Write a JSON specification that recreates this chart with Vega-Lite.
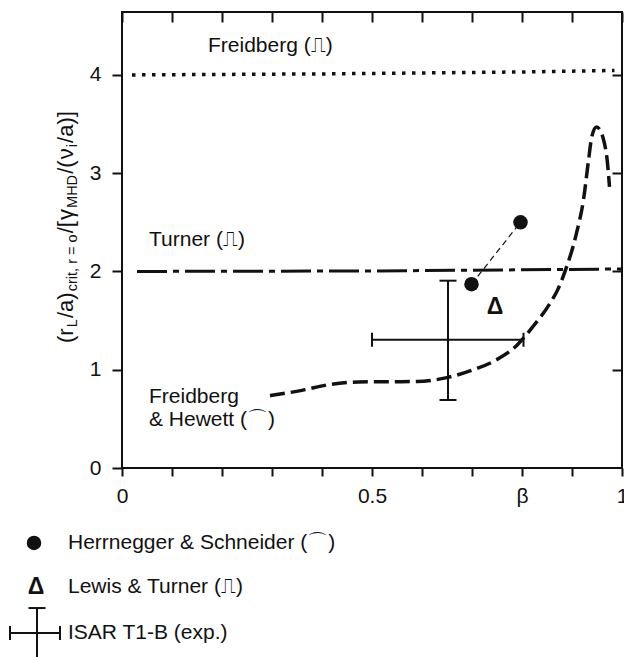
{
  "$schema": "https://vega.github.io/schema/vega-lite/v6.json",
  "width": 500,
  "height": 456,
  "autosize": {"type": "none"},
  "padding": {"left": 122, "top": 12, "right": 2, "bottom": 189},
  "background": "white",
  "config": {
    "view": {"stroke": "#111", "strokeWidth": 2},
    "font": "Liberation Sans",
    "axis": {
      "domain": false,
      "grid": false,
      "tickColor": "#111",
      "tickWidth": 2,
      "labelColor": "#111",
      "labelFont": "Liberation Sans",
      "labelFontSize": 21
    },
    "text": {"font": "Liberation Sans", "fontSize": 21, "color": "#111"}
  },
  "datasets": {
    "freidberg_limit": [
      {"beta": 0.02, "ratio": 4.0},
      {"beta": 0.4, "ratio": 4.01},
      {"beta": 0.8, "ratio": 4.03},
      {"beta": 0.985, "ratio": 4.045}
    ],
    "turner_limit": [
      {"beta": 0.03, "ratio": 2.0},
      {"beta": 0.5, "ratio": 2.005},
      {"beta": 1.0, "ratio": 2.025}
    ],
    "freidberg_hewett": [
      {"beta": 0.296, "ratio": 0.736},
      {"beta": 0.36, "ratio": 0.79},
      {"beta": 0.416, "ratio": 0.85},
      {"beta": 0.472, "ratio": 0.875},
      {"beta": 0.53, "ratio": 0.878},
      {"beta": 0.59, "ratio": 0.88},
      {"beta": 0.65, "ratio": 0.92},
      {"beta": 0.7, "ratio": 0.995},
      {"beta": 0.745, "ratio": 1.09},
      {"beta": 0.79, "ratio": 1.25},
      {"beta": 0.822, "ratio": 1.44},
      {"beta": 0.854, "ratio": 1.66},
      {"beta": 0.872, "ratio": 1.82},
      {"beta": 0.886, "ratio": 2.0},
      {"beta": 0.909, "ratio": 2.39},
      {"beta": 0.923, "ratio": 2.73},
      {"beta": 0.933, "ratio": 3.13},
      {"beta": 0.94, "ratio": 3.38},
      {"beta": 0.949, "ratio": 3.47},
      {"beta": 0.958, "ratio": 3.42},
      {"beta": 0.965, "ratio": 3.3},
      {"beta": 0.97, "ratio": 3.15},
      {"beta": 0.975, "ratio": 2.86}
    ],
    "herrnegger": [
      {"beta": 0.699, "ratio": 1.87},
      {"beta": 0.797, "ratio": 2.5},
      {"beta": -0.176, "ratio": -0.763}
    ],
    "lewis": [
      {"beta": 0.746, "ratio": 1.64},
      {"beta": -0.172, "ratio": -1.211}
    ],
    "isar": [
      {"beta": 0.652, "ratio": 1.305, "beta_lo": 0.5, "beta_hi": 0.803, "ratio_lo": 0.692, "ratio_hi": 1.906},
      {"beta": -0.17, "ratio": -1.679, "beta_lo": -0.224, "beta_hi": -0.124, "ratio_lo": -2.2, "ratio_hi": -1.425}
    ],
    "notes": [
      {"beta": 0.172, "ratio": 4.29, "text": "Freidberg (⎍)"},
      {"beta": 0.054, "ratio": 2.32, "text": "Turner (⎍)"},
      {"beta": 0.054, "ratio": 0.718, "text": "Freidberg"},
      {"beta": 0.054, "ratio": 0.489, "text": "& Hewett (⌒)"},
      {"beta": -0.108, "ratio": -0.763, "text": "Herrnegger & Schneider (⌒)"},
      {"beta": -0.108, "ratio": -1.211, "text": "Lewis & Turner (⎍)"},
      {"beta": -0.108, "ratio": -1.679, "text": "ISAR T1-B (exp.)"}
    ],
    "ylab": [
      {"part": "base", "text": "(r", "pos": 1.2723},
      {"part": "sub", "text": "L", "pos": 1.4326},
      {"part": "base", "text": "/a)", "pos": 1.5257},
      {"part": "sub", "text": "crit, r = o", "pos": 1.7985},
      {"part": "base", "text": "/[", "pos": 2.3878},
      {"part": "base", "text": "γ", "pos": 2.5232},
      {"part": "sub", "text": "MHD", "pos": 2.6463},
      {"part": "base", "text": "/(", "pos": 2.9934},
      {"part": "base", "text": "ν", "pos": 3.141},
      {"part": "sub", "text": "i", "pos": 3.2641},
      {"part": "base", "text": "/a)]", "pos": 3.3079}
    ]
  },
  "resolve": {"axis": {"x": "independent", "y": "independent"}},
  "layer": [
    {
      "data": {"name": "freidberg_limit"},
      "mark": {"type": "line", "color": "#111", "strokeWidth": 3.5, "strokeDash": [3.5, 6.5]},
      "encoding": {
        "x": {
          "field": "beta", "type": "quantitative", "title": null,
          "scale": {"domain": [0, 1], "nice": false, "zero": false},
          "axis": {
            "orient": "bottom",
            "values": [0, 0.1, 0.2, 0.3, 0.4, 0.5, 0.6, 0.7, 0.8, 0.9, 1],
            "tickSize": 8,
            "labelPadding": 9,
            "labelOverlap": false,
            "labelFlush": false,
            "labelExpr": "abs(datum.value) < 1e-6 ? '0' : abs(datum.value - 0.5) < 1e-6 ? '0.5' : abs(datum.value - 0.8) < 1e-6 ? 'β' : abs(datum.value - 1) < 1e-6 ? '1' : ''"
          }
        },
        "y": {
          "field": "ratio", "type": "quantitative", "title": null,
          "scale": {"domain": [0, 4.64], "nice": false, "zero": false},
          "axis": {"orient": "left", "values": [0, 1, 2, 3, 4], "tickSize": 10, "labelPadding": 11}
        }
      }
    },
    {
      "data": {"name": "turner_limit"},
      "mark": {"type": "line", "color": "#111", "strokeWidth": 3, "strokeDash": [30, 6, 6, 6]},
      "encoding": {
        "x": {
          "field": "beta", "type": "quantitative", "title": null,
          "axis": {"orient": "top", "values": [0, 0.1, 0.2, 0.3, 0.4, 0.5, 0.6, 0.7, 0.8, 0.9, 1], "tickSize": -10, "labels": false}
        },
        "y": {
          "field": "ratio", "type": "quantitative", "title": null,
          "axis": {"orient": "right", "values": [1, 2, 3, 4], "tickSize": -10, "labels": false}
        }
      }
    },
    {
      "data": {"name": "freidberg_hewett"},
      "mark": {"type": "line", "color": "#111", "strokeWidth": 3.5, "strokeDash": [15, 6], "interpolate": "monotone"},
      "encoding": {
        "x": {"field": "beta", "type": "quantitative", "axis": null},
        "y": {"field": "ratio", "type": "quantitative", "axis": null}
      }
    },
    {
      "data": {"name": "herrnegger"},
      "transform": [{"filter": "datum.ratio > 0"}],
      "mark": {"type": "line", "color": "#111", "strokeWidth": 1.2, "strokeDash": [6, 4]},
      "encoding": {
        "x": {"field": "beta", "type": "quantitative", "axis": null},
        "y": {"field": "ratio", "type": "quantitative", "axis": null}
      }
    },
    {
      "data": {"name": "herrnegger"},
      "mark": {"type": "point", "shape": "circle", "filled": true, "color": "#111", "opacity": 1, "size": 210},
      "encoding": {
        "x": {"field": "beta", "type": "quantitative", "axis": null},
        "y": {"field": "ratio", "type": "quantitative", "axis": null}
      }
    },
    {
      "data": {"name": "lewis"},
      "mark": {"type": "text", "text": "Δ", "fontWeight": "bold", "fontSize": 23, "align": "center", "baseline": "middle"},
      "encoding": {
        "x": {"field": "beta", "type": "quantitative", "axis": null},
        "y": {"field": "ratio", "type": "quantitative", "axis": null}
      }
    },
    {
      "data": {"name": "isar"},
      "mark": {"type": "rule", "color": "#111", "strokeWidth": 2},
      "encoding": {
        "x": {"field": "beta", "type": "quantitative", "axis": null},
        "y": {"field": "ratio_lo", "type": "quantitative", "axis": null},
        "y2": {"field": "ratio_hi"}
      }
    },
    {
      "data": {"name": "isar"},
      "mark": {"type": "rule", "color": "#111", "strokeWidth": 2},
      "encoding": {
        "x": {"field": "beta_lo", "type": "quantitative", "axis": null},
        "x2": {"field": "beta_hi"},
        "y": {"field": "ratio", "type": "quantitative", "axis": null}
      }
    },
    {
      "data": {"name": "isar"},
      "mark": {"type": "tick", "orient": "horizontal", "color": "#111", "size": 17, "thickness": 2, "opacity": 1},
      "encoding": {
        "x": {"field": "beta", "type": "quantitative", "axis": null},
        "y": {"field": "ratio_lo", "type": "quantitative", "axis": null}
      }
    },
    {
      "data": {"name": "isar"},
      "mark": {"type": "tick", "orient": "horizontal", "color": "#111", "size": 17, "thickness": 2, "opacity": 1},
      "encoding": {
        "x": {"field": "beta", "type": "quantitative", "axis": null},
        "y": {"field": "ratio_hi", "type": "quantitative", "axis": null}
      }
    },
    {
      "data": {"name": "isar"},
      "mark": {"type": "tick", "orient": "vertical", "color": "#111", "size": 14, "thickness": 2, "opacity": 1},
      "encoding": {
        "x": {"field": "beta_lo", "type": "quantitative", "axis": null},
        "y": {"field": "ratio", "type": "quantitative", "axis": null}
      }
    },
    {
      "data": {"name": "isar"},
      "mark": {"type": "tick", "orient": "vertical", "color": "#111", "size": 14, "thickness": 2, "opacity": 1},
      "encoding": {
        "x": {"field": "beta_hi", "type": "quantitative", "axis": null},
        "y": {"field": "ratio", "type": "quantitative", "axis": null}
      }
    },
    {
      "data": {"name": "notes"},
      "mark": {"type": "text", "align": "left", "baseline": "middle", "fontSize": 21},
      "encoding": {
        "x": {"field": "beta", "type": "quantitative", "axis": null},
        "y": {"field": "ratio", "type": "quantitative", "axis": null},
        "text": {"field": "text"}
      }
    },
    {
      "data": {"name": "ylab"},
      "transform": [{"filter": "datum.part === 'base'"}],
      "mark": {"type": "text", "angle": 270, "align": "left", "baseline": "alphabetic", "fontSize": 22},
      "encoding": {
        "x": {"datum": -0.098, "type": "quantitative", "axis": null},
        "y": {"field": "pos", "type": "quantitative", "axis": null},
        "text": {"field": "text"}
      }
    },
    {
      "data": {"name": "ylab"},
      "transform": [{"filter": "datum.part === 'sub'"}],
      "mark": {"type": "text", "angle": 270, "align": "left", "baseline": "alphabetic", "fontSize": 14.5, "dy": 4},
      "encoding": {
        "x": {"datum": -0.098, "type": "quantitative", "axis": null},
        "y": {"field": "pos", "type": "quantitative", "axis": null},
        "text": {"field": "text"}
      }
    }
  ]
}
